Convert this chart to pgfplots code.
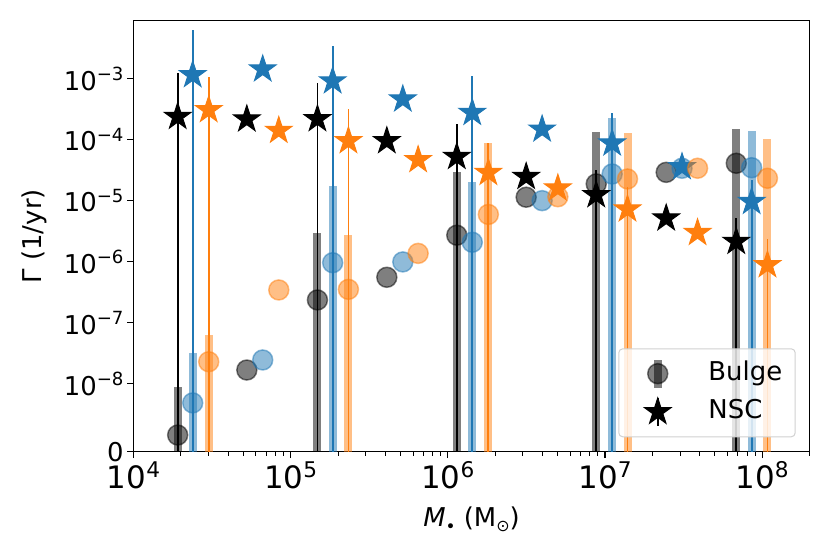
\documentclass[border=0pt]{standalone}
\usepackage{fontspec}
\setmainfont{DejaVu Sans}
\usepackage{pgfplots}
\pgfplotsset{compat=1.18}
\definecolor{tabblue}{HTML}{1F77B4}
\definecolor{taborange}{HTML}{FF7F0E}
\newcommand\sy[1]{10\raisebox{0.36em}{\fontsize{18.2}{18.2}\selectfont #1}}
\newcommand\sx[1]{10\raisebox{0.36em}{\fontsize{21.7}{21.7}\selectfont #1}}
\pgfdeclareplotmark{mstar}{%
  \pgfpathmoveto{\pgfpointpolar{90}{\pgfplotmarksize}}%
  \pgfpathlineto{\pgfpointpolar{126}{0.381966*\pgfplotmarksize}}%
  \pgfpathlineto{\pgfpointpolar{162}{\pgfplotmarksize}}%
  \pgfpathlineto{\pgfpointpolar{198}{0.381966*\pgfplotmarksize}}%
  \pgfpathlineto{\pgfpointpolar{234}{\pgfplotmarksize}}%
  \pgfpathlineto{\pgfpointpolar{270}{0.381966*\pgfplotmarksize}}%
  \pgfpathlineto{\pgfpointpolar{306}{\pgfplotmarksize}}%
  \pgfpathlineto{\pgfpointpolar{342}{0.381966*\pgfplotmarksize}}%
  \pgfpathlineto{\pgfpointpolar{18}{\pgfplotmarksize}}%
  \pgfpathlineto{\pgfpointpolar{54}{0.381966*\pgfplotmarksize}}%
  \pgfpathclose
  \pgfusepathqfillstroke
}
% symlog axis (linthresh 1e-8, linscale 1, as in matplotlib)
\pgfplotsset{table/symlog/.style={y expr={(\thisrow{y}>1e-8) ? (1.111111+0.4342944819*ln(max(\thisrow{y},1e-8)/1e-8)) : (1.111111e8*\thisrow{y})}}}
\pgfplotsset{
  bulge/.style={only marks, mark=*, mark size=10bp, forget plot,
    mark options={draw=#1, fill=#1, draw opacity=0.5, fill opacity=0.5, line width=1.5bp}},
  nsc/.style={only marks, mark=mstar, mark size=14bp, forget plot,
    mark options={draw=#1, fill=#1, line width=1bp}},
  thickbar/.style={ycomb, no marks, forget plot, draw=#1, draw opacity=0.5, line width=8bp},
  thinbar/.style={ycomb, no marks, forget plot, draw=#1, line width=1.8bp},
}
\begin{document}
\begin{tikzpicture}
\useasboundingbox (-133.5bp,-102.3bp) rectangle (696.5bp,451.7bp);
\begin{axis}[
  at={(0,0)}, anchor=south west,
  scale only axis, width=676bp, height=431bp,
  xmode=log, xmin=1e4, xmax=2e8,
  ymin=0, ymax=7.065,
  xtick={1e4,1e5,1e6,1e7,1e8},
  xticklabels={\sx{4},\sx{5},\sx{6},\sx{7},\sx{8}},
  minor xtick={2e4,3e4,4e4,5e4,6e4,7e4,8e4,9e4,
               2e5,3e5,4e5,5e5,6e5,7e5,8e5,9e5,
               2e6,3e6,4e6,5e6,6e6,7e6,8e6,9e6,
               2e7,3e7,4e7,5e7,6e7,7e7,8e7,9e7,2e8},
  ytick={0,1.111111,2.111111,3.111111,4.111111,5.111111,6.111111},
  yticklabels={0,\sy{−8},\sy{−7},\sy{−6},\sy{−5},\sy{−4},\sy{−3}},
  minor ytick={},
  tick pos=left, tick align=outside,
  axis line style={line width=1.1bp},
  major tick length=6.5bp, minor tick length=3.8bp,
  every major tick/.append style={line width=1.1bp, black},
  every minor tick/.append style={line width=0.9bp, black},
  yticklabel style={font=\fontsize{26}{26}\selectfont},
  xticklabel style={font=\fontsize{31}{31}\selectfont},
  xlabel={\textit{M}\raisebox{-5.5bp}{\fontsize{17}{17}\selectfont •}\ (M\raisebox{-5bp}{\fontsize{16}{16}\selectfont ⊙})},
  ylabel={Γ (1/yr)},
  xlabel style={font=\fontsize{26}{26}\selectfont, at={(axis description cs:0.5,-0.174)}, anchor=base},
  ylabel style={font=\fontsize{26}{26}\selectfont, at={(axis description cs:-0.1358,0.5)}, anchor=base},
  legend cell align=left,
  legend style={at={(rel axis cs:0.9796,0.0334)}, anchor=south east,
    draw=black!18, line width=1bp, rounded corners=4bp, fill=white, fill opacity=0.8,
    draw opacity=1, text opacity=1,
    font=\fontsize{26}{26}\selectfont,
    inner xsep=13bp, inner ysep=12.6bp, row sep=13.8bp,
    nodes={inner sep=0pt, text height=19bp, text depth=5.5bp},
    /tikz/every odd column/.append style={column sep=24.7bp}},
]
% ---------------- black ----------------
\addplot[thickbar=black] table[symlog] {
x y
1.91e4 9.6e-9
1.48e5 2.94e-6
1.14e6 2.94e-5
8.79e6 1.33e-4
6.84e7 1.49e-4
};
\addplot[bulge=black] table[symlog] {
x y
1.91e4 2.46e-9
5.26e4 1.69e-8
1.48e5 2.38e-7
4.09e5 5.6e-7
1.14e6 2.74e-6
3.15e6 1.15e-5
8.79e6 1.90e-5
2.45e7 2.94e-5
6.84e7 4.14e-5
};
\addplot[thinbar=black] table[symlog] {
x y
1.91e4 1.24e-3
1.48e5 8.5e-4
1.14e6 1.80e-4
8.79e6 3.2e-5
6.84e7 5.2e-6
};
\addplot[nsc=black] table[symlog] {
x y
1.91e4 2.40e-4
5.26e4 2.18e-4
1.48e5 2.20e-4
4.09e5 9.6e-5
1.14e6 5.3e-5
3.15e6 2.49e-5
8.79e6 1.25e-5
2.45e7 5.19e-6
6.84e7 2.15e-6
};
% ---------------- blue ----------------
\addplot[thickbar=tabblue] table[symlog] {
x y
2.38e4 3.25e-8
1.85e5 1.78e-5
1.43e6 2.06e-5
1.11e7 2.31e-4
8.57e7 1.42e-4
};
\addplot[bulge=tabblue] table[symlog] {
x y
2.38e4 7.2e-9
6.64e4 2.47e-8
1.85e5 9.7e-7
5.17e5 1.0e-6
1.43e6 2.1e-6
3.98e6 1.01e-5
1.11e7 2.76e-5
3.09e7 3.43e-5
8.57e7 3.5e-5
};
\addplot[thinbar=tabblue] table[symlog] {
x y
2.38e4 6.3e-3
1.85e5 3.5e-3
1.43e6 1.12e-3
1.11e7 2.79e-4
8.57e7 2.2e-5
};
\addplot[nsc=tabblue] table[symlog] {
x y
2.38e4 1.16e-3
6.64e4 1.44e-3
1.85e5 9.2e-4
5.17e5 4.63e-4
1.43e6 2.79e-4
3.98e6 1.49e-4
1.11e7 8.8e-5
3.09e7 3.6e-5
8.57e7 9.7e-6
};
% ---------------- orange ----------------
\addplot[thickbar=taborange] table[symlog] {
x y
3.01e4 6.3e-8
2.33e5 2.76e-6
1.81e6 9.0e-5
1.39e7 1.29e-4
1.08e8 1.02e-4
};
\addplot[bulge=taborange] table[symlog] {
x y
3.01e4 2.31e-8
8.40e4 3.47e-7
2.33e5 3.55e-7
6.47e5 1.38e-6
1.81e6 6.0e-6
5.01e6 1.17e-5
1.39e7 2.29e-5
3.88e7 3.43e-5
1.08e8 2.35e-5
};
\addplot[thinbar=taborange] table[symlog] {
x y
3.01e4 1.06e-3
2.33e5 3.2e-4
1.81e6 8.8e-5
1.39e7 1.71e-5
1.08e8 2.35e-6
};
\addplot[nsc=taborange] table[symlog] {
x y
3.01e4 3.1e-4
8.40e4 1.42e-4
2.33e5 9.6e-5
6.47e5 4.7e-5
1.81e6 2.9e-5
5.01e6 1.61e-5
1.39e7 7.3e-6
3.88e7 3.0e-6
1.08e8 8.9e-7
};
% ---------------- legend ----------------
\addlegendimage{legend image code/.code={
  \path[draw=none, fill=none] (0bp,-10bp) rectangle (52bp,10bp);
  \draw[overlay, black, draw opacity=0.5, line width=8bp, rounded corners=0pt] (26bp,-14bp) -- (26bp,14bp);
  \draw[overlay, black, fill=black, draw opacity=0.5, fill opacity=0.5, line width=1.5bp] (26bp,0bp) circle[radius=10bp];
}}
\addlegendentry{Bulge}
\addlegendimage{legend image code/.code={
  \path[draw=none, fill=none] (0bp,-10bp) rectangle (52bp,10bp);
  \draw[overlay, black, line width=1.8bp, rounded corners=0pt] (26bp,-14bp) -- (26bp,14bp);
  \path[overlay, draw=black, fill=black, fill opacity=1, draw opacity=1, line width=1bp, rounded corners=0pt] plot[mark=mstar, mark size=14bp, only marks] coordinates {(26bp,0bp)};
}}
\addlegendentry{NSC}
\end{axis}
\end{tikzpicture}
\end{document}
